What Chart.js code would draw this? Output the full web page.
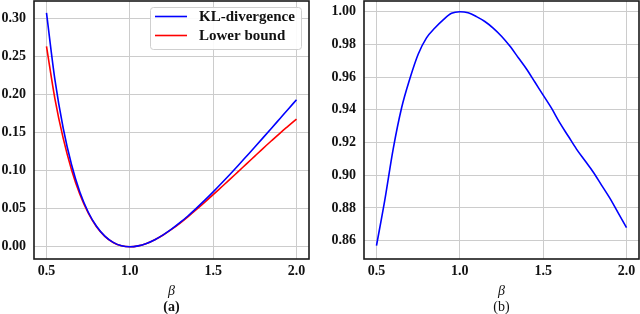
<!DOCTYPE html>
<html>
<head>
<meta charset="utf-8">
<script src="https://cdn.jsdelivr.net/npm/chart.js@4.4.0/dist/chart.umd.min.js"></script>
<style>
  html, body { margin: 0; padding: 0; background: #fff; }
  #wrap { position: relative; width: 640px; height: 314px; }
  .box { position: absolute; top: 0; width: 320px; height: 314px; }
</style>
</head>
<body>
<div id="wrap">
  <div class="box" style="left:0"><canvas id="chartA" width="320" height="314"></canvas></div>
  <div class="box" style="left:320px"><canvas id="chartB" width="320" height="314"></canvas></div>
</div>
<script>
// values
const beta = [0.5, 0.55, 0.6, 0.65, 0.7, 0.75, 0.8, 0.85, 0.9, 0.95, 1.0,
  1.05, 1.1, 1.15, 1.2, 1.25, 1.3, 1.35, 1.4, 1.45, 1.5,
  1.55, 1.6, 1.65, 1.7, 1.75, 1.8, 1.85, 1.9, 1.95, 2.0];
const klDivergence = [0.307, 0.220, 0.156, 0.108, 0.0719, 0.0457, 0.0269, 0.0140, 0.0058, 0.0013, 0,
  0.0012, 0.0044, 0.0093, 0.0157, 0.0231, 0.0316, 0.0408, 0.0508, 0.0612, 0.0721,
  0.0834, 0.0950, 0.1068, 0.1189, 0.1310, 0.1433, 0.1557, 0.1682, 0.1807, 0.1931];
const lowerBound = [0.263, 0.195, 0.1427, 0.1013, 0.0690, 0.0445, 0.0264, 0.0138, 0.0057, 0.0013, 0,
  0.0012, 0.0044, 0.0093, 0.0155, 0.0228, 0.0309, 0.0397, 0.0490, 0.0586, 0.0685,
  0.0785, 0.0885, 0.0987, 0.1089, 0.1191, 0.1293, 0.1392, 0.1490, 0.1584, 0.1677];
const boundRatio = [0.857, 0.885, 0.916, 0.941, 0.959, 0.974, 0.984, 0.990, 0.995, 0.999, 1.000,
  0.9993, 0.997, 0.994, 0.990, 0.985, 0.979, 0.972, 0.965, 0.957, 0.949,
  0.941, 0.932, 0.924, 0.916, 0.909, 0.902, 0.894, 0.886, 0.877, 0.868];

const xTicks = [0.5, 1.0, 1.5, 2.0];
const yTicksA = [0, 0.05, 0.10, 0.15, 0.20, 0.25, 0.30];
const yTicksB = [0.86, 0.88, 0.90, 0.92, 0.94, 0.96, 0.98, 1.00];

const FONT = "'Liberation Serif', 'Times New Roman', serif";

function pts(ys) {
  return beta.map((b, i) => ({ x: b, y: ys[i] }));
}

function noPad(s) {
  s.paddingTop = 0;
  s.paddingBottom = 0;
  s.paddingLeft = 0;
  s.paddingRight = 0;
}

// box around the plot area like matplotlib spines
const framePlugin = {
  id: "frame",
  afterDraw(chart) {
    const a = chart.chartArea;
    const c = chart.ctx;
    c.save();
    c.strokeStyle = "#1a1a1a";
    c.lineWidth = 1.6;
    c.strokeRect(a.left, a.top, a.right - a.left, a.bottom - a.top);
    c.restore();
  },
};

// beta label and sub caption under the x axis
const captionPlugin = {
  id: "caption",
  afterDraw(chart, args, opts) {
    const a = chart.chartArea;
    const c = chart.ctx;
    const cx = (a.left + a.right) / 2;
    c.save();
    c.fillStyle = "#111";
    c.textAlign = "center";
    c.textBaseline = "middle";
    c.font = "italic 14px " + FONT;
    c.fillText("\u03B2", cx, 291);
    c.font = (opts.bold ? "bold " : "") + "14px " + FONT;
    c.fillText(opts.text, cx, 307);
    c.restore();
  },
};

// legend drawn inside the axes, upper right
const innerLegend = {
  id: "innerLegend",
  afterDraw(chart, args, opts) {
    if (!opts.show) return;
    const a = chart.chartArea;
    const c = chart.ctx;
    const w = 151, h = 42;
    const x0 = a.right - 8 - w, y0 = a.top + 6;
    c.save();
    c.fillStyle = "rgba(255,255,255,0.9)";
    c.strokeStyle = "#cfcfcf";
    c.lineWidth = 1;
    c.beginPath();
    c.roundRect(x0 + 0.5, y0 + 0.5, w, h, 3);
    c.fill();
    c.stroke();
    c.font = "bold 15px " + FONT;
    c.textBaseline = "middle";
    c.textAlign = "left";
    chart.data.datasets.forEach((ds, i) => {
      const y = y0 + 9.5 + i * 19;
      c.strokeStyle = ds.borderColor;
      c.lineWidth = 1.6;
      c.beginPath();
      c.moveTo(x0 + 5, y);
      c.lineTo(x0 + 37, y);
      c.stroke();
      c.fillStyle = "#111";
      c.fillText(ds.label, x0 + 49, y + 0.5);
    });
    c.restore();
  },
};

function makeScales(yMin, yMax, yTicks, yWidth, xMin, xMax) {
  const tickFont = { family: FONT, size: 14, weight: "bold" };
  return {
    x: {
      type: "linear",
      min: xMin,
      max: xMax,
      afterBuildTicks: (s) => { s.ticks = xTicks.map((v) => ({ value: v })); },
      afterFit: (s) => { s.height = 55; noPad(s); },
      ticks: { font: tickFont, color: "#111", padding: 4, maxRotation: 0,
        callback: (v) => v.toFixed(1) },
      grid: { color: "#cccccc", lineWidth: 1, drawTicks: false },
      border: { display: false },
    },
    y: {
      min: yMin,
      max: yMax,
      afterBuildTicks: (s) => { s.ticks = yTicks.map((v) => ({ value: v })); },
      afterFit: (s) => { s.width = yWidth; noPad(s); },
      ticks: { font: tickFont, color: "#111", padding: 8,
        callback: (v) => v.toFixed(2) },
      grid: { color: "#cccccc", lineWidth: 1, drawTicks: false },
      border: { display: false },
    },
  };
}

new Chart(document.getElementById("chartA"), {
  type: "line",
  data: {
    datasets: [
      { label: "KL-divergence", data: pts(klDivergence), borderColor: "#0000ff",
        borderWidth: 1.6, pointRadius: 0, cubicInterpolationMode: "monotone", fill: false },
      { label: "Lower bound", data: pts(lowerBound), borderColor: "#ff0000",
        borderWidth: 1.6, pointRadius: 0, cubicInterpolationMode: "monotone", fill: false },
    ],
  },
  options: {
    responsive: false,
    animation: false,
    layout: { padding: { left: 0, top: 1, right: 11, bottom: 0 } },
    scales: makeScales(-0.016, 0.3227, yTicksA, 34, 0.425, 2.075),
    plugins: {
      legend: { display: false },
      tooltip: { enabled: false },
      caption: { text: "(a)", bold: true },
      innerLegend: { show: true },
    },
  },
  plugins: [framePlugin, captionPlugin, innerLegend],
});

new Chart(document.getElementById("chartB"), {
  type: "line",
  data: {
    datasets: [
      { label: "ratio", data: pts(boundRatio), borderColor: "#0000ff",
        borderWidth: 1.6, pointRadius: 0, cubicInterpolationMode: "monotone", fill: false },
    ],
  },
  options: {
    responsive: false,
    animation: false,
    layout: { padding: { left: 0, top: 1, right: 1, bottom: 0 } },
    scales: makeScales(0.8488, 1.00654, yTicksB, 44, 0.425, 2.075),
    plugins: {
      legend: { display: false },
      tooltip: { enabled: false },
      caption: { text: "(b)", bold: false },
      innerLegend: { show: false },
    },
  },
  plugins: [framePlugin, captionPlugin, innerLegend],
});
</script>
</body>
</html>
